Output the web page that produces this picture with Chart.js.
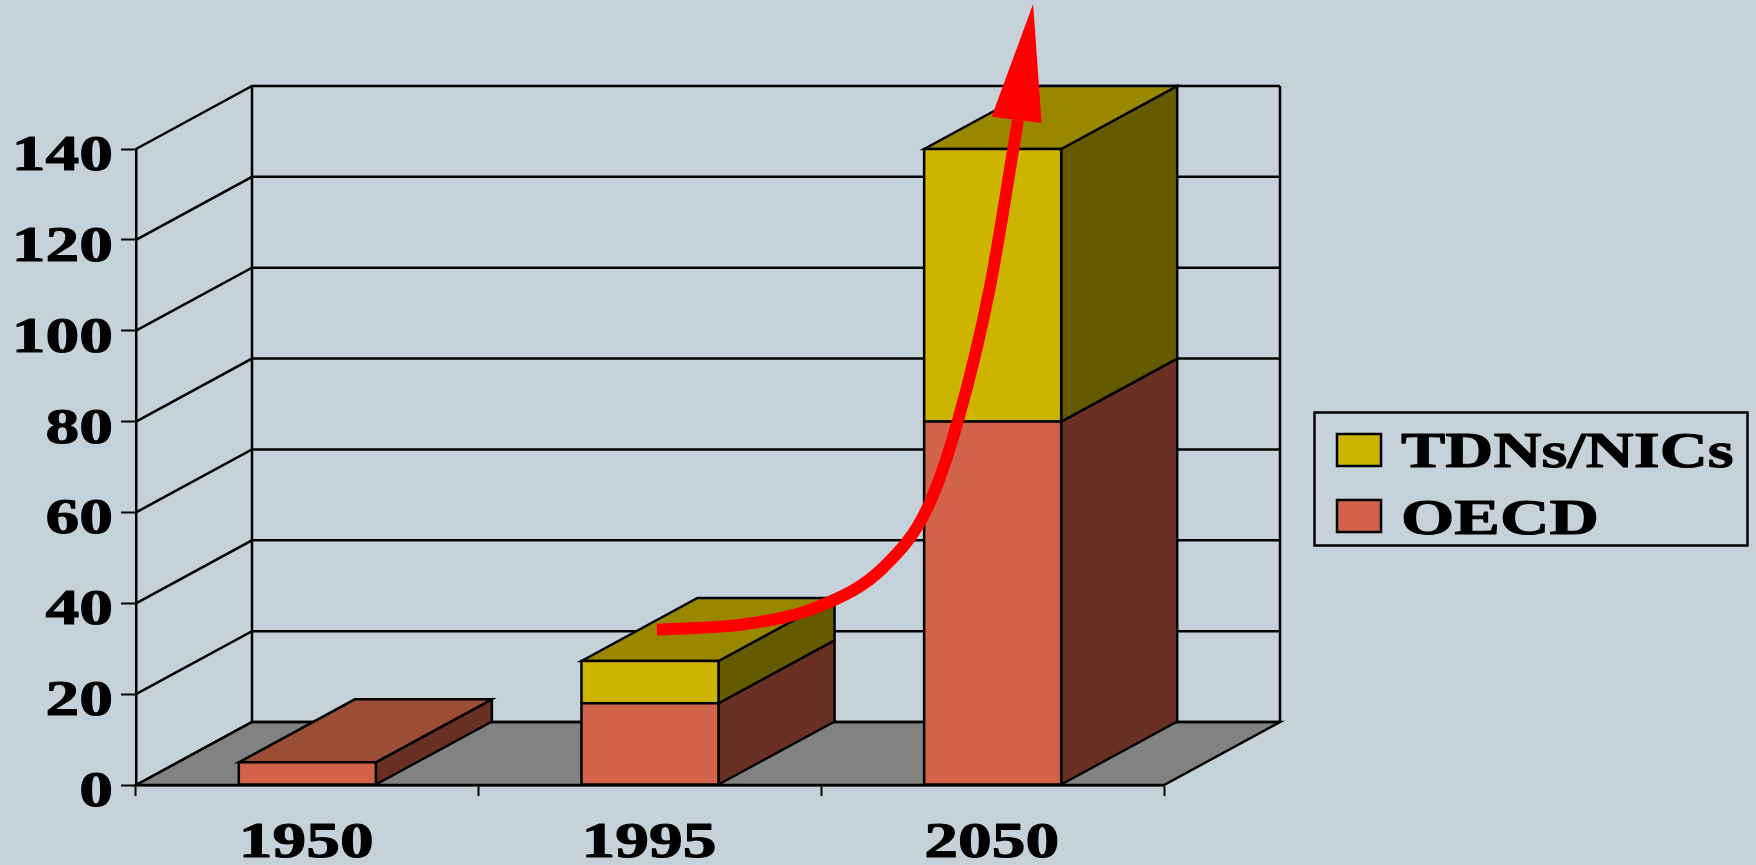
<!DOCTYPE html>
<html>
<head>
<meta charset="utf-8">
<style>html,body{margin:0;padding:0;background:#C6D2D9;overflow:hidden}canvas{display:block}</style>
<script src="https://cdn.jsdelivr.net/npm/chart.js@4"></script>
</head>
<body>
<canvas id="c" width="1756" height="865"></canvas>
<script>
// --- chart values ---
const categories = ['1950', '1995', '2050'];
const oecdValues = [5, 18, 80];
const tdnValues = [0, 9.3, 60];
const yTickStep = 20;
const yMax = 140;
// growth arrow, in data units: x = category position, y = value
const arrowX = [1.020, 1.277, 1.496, 1.680, 1.811, 1.899, 1.992, 2.074];
const arrowY = [34.2, 35.4, 39.4, 47.8, 61.2, 80.3, 109.6, 146.4];
const arrowHeadX = [2.118, 1.997, 2.143];
const arrowHeadY = [171.9, 147.1, 145.7];

const DX = 116, DY = 63, INK = '#000', LINE = 2.5;
const SERIF = "bold 50px 'Liberation Serif'";
const STRETCH = 1.35;
const faces = {
  OECD: {front: '#D0634A', side: '#6A3024', top: '#9C4D36'},
  'TDNs/NICs': {front: '#CCB400', side: '#665A00', top: '#998700'}
};

function poly(ctx, pts, fill) {
  ctx.beginPath();
  pts.forEach((p, i) => i ? ctx.lineTo(p[0], p[1]) : ctx.moveTo(p[0], p[1]));
  ctx.closePath();
  if (fill) { ctx.fillStyle = fill; ctx.fill(); }
  ctx.stroke();
}
function wideText(ctx, text, x, baseline, align, stretch) {
  ctx.save();
  ctx.translate(x, baseline);
  ctx.scale(stretch || STRETCH, 1);
  ctx.font = SERIF;
  ctx.fillStyle = INK;
  ctx.strokeStyle = INK;
  ctx.lineWidth = 1;
  ctx.lineJoin = 'round';
  ctx.textAlign = align;
  ctx.textBaseline = 'alphabetic';
  ctx.fillText(text, 0, 0);
  ctx.strokeText(text, 0, 0);
  ctx.restore();
}

const box3d = {
  id: 'box3d',
  beforeDraw(chart) {
    const {ctx, chartArea: a, scales: {y}} = chart;
    ctx.save();
    ctx.strokeStyle = INK; ctx.lineWidth = LINE; ctx.lineJoin = 'miter';
    // floor
    poly(ctx, [[a.left, a.bottom], [a.left + DX, a.bottom - DY], [a.right + DX, a.bottom - DY], [a.right, a.bottom]], '#828282');
    // walls and grid
    y.ticks.forEach(t => {
      const py = y.getPixelForValue(t.value);
      ctx.beginPath();
      ctx.moveTo(a.left, py);
      ctx.lineTo(a.left + DX, py - DY);
      ctx.lineTo(a.right + DX, py - DY);
      ctx.stroke();
    });
    [a.left + DX, a.right + DX].forEach(x => {
      ctx.beginPath();
      ctx.moveTo(x, a.top - DY);
      ctx.lineTo(x, a.bottom - DY);
      ctx.stroke();
    });
    ctx.restore();
  },
  beforeDatasetsDraw(chart) {
    const {ctx} = chart;
    const metas = chart.getSortedVisibleDatasetMetas().filter(m => m.type === 'bar')
      .sort((p, q) => p.index - q.index);
    ctx.save();
    ctx.strokeStyle = INK; ctx.lineWidth = LINE; ctx.lineJoin = 'miter';
    categories.forEach((_, i) => {
      let topBar = null, topColors = null;
      metas.forEach(m => {
        const bar = m.data[i];
        const v = chart.data.datasets[m.index].data[i];
        if (!v) return;
        const c = faces[chart.data.datasets[m.index].label];
        const r = bar.x + bar.width / 2;
        poly(ctx, [[r, bar.y], [r + DX, bar.y - DY], [r + DX, bar.base - DY], [r, bar.base]], c.side);
        topBar = bar; topColors = c;
      });
      if (topBar) {
        const l = topBar.x - topBar.width / 2, r = topBar.x + topBar.width / 2, t = topBar.y;
        poly(ctx, [[l, t], [l + DX, t - DY], [r + DX, t - DY], [r, t]], topColors.top);
      }
    });
    ctx.restore();
  },
  afterDatasetDraw(chart, args) {
    if (args.meta.type !== 'bar') return;
    const {ctx} = chart;
    ctx.save();
    ctx.strokeStyle = INK; ctx.lineWidth = LINE; ctx.lineJoin = 'miter';
    args.meta.data.forEach((bar, i) => {
      if (!chart.data.datasets[args.index].data[i]) return;
      ctx.strokeRect(bar.x - bar.width / 2, bar.y, bar.width, bar.base - bar.y);
    });
    ctx.restore();
  },
  afterDatasetsDraw(chart) {
    const {ctx, scales: {xArrow, y}} = chart;
    ctx.save();
    ctx.beginPath();
    arrowHeadX.forEach((v, i) => {
      const px = xArrow.getPixelForValue(v), py = y.getPixelForValue(arrowHeadY[i]);
      i ? ctx.lineTo(px, py) : ctx.moveTo(px, py);
    });
    ctx.closePath();
    ctx.fillStyle = '#FF0000';
    ctx.fill();
    ctx.restore();
  },
  afterDraw(chart) {
    const {ctx, scales: {x, y}} = chart;
    // axis labels
    y.ticks.forEach(t => wideText(ctx, String(t.value), 113, y.getPixelForValue(t.value) + 21, 'right'));
    categories.forEach((c, i) => wideText(ctx, c, x.getPixelForTick(i) - 1, 857, 'center'));
    // legend
    ctx.save();
    ctx.strokeStyle = INK; ctx.lineWidth = LINE;
    ctx.strokeRect(1314.5, 412.5, 433, 133);
    const rows = chart.data.datasets.filter(d => d.type === 'bar').slice().reverse();
    rows.forEach((d, i) => {
      const top = 434 + i * 66;
      ctx.fillStyle = d.backgroundColor;
      ctx.fillRect(1337, top, 44, 32);
      ctx.strokeRect(1337, top, 44, 32);
      wideText(ctx, d.label, 1401, top + 33 + i, 'left', i ? 1.37 : 1.33);
    });
    ctx.restore();
  }
};

new Chart(document.getElementById('c'), {
  data: {
    labels: categories,
    datasets: [
      {type: 'line', label: 'Trend', xAxisID: 'xArrow', yAxisID: 'y', order: 0, clip: false,
       data: arrowX.map((v, i) => ({x: v, y: arrowY[i]})),
       borderColor: '#FF0000', borderWidth: 12, borderCapStyle: 'butt', cubicInterpolationMode: 'monotone', pointRadius: 0, fill: false},
      {type: 'bar', label: 'OECD', xAxisID: 'x', yAxisID: 'y', stack: 'total', grouped: false, order: 1, data: oecdValues,
       backgroundColor: faces.OECD.front, borderWidth: 0, barPercentage: 0.4, categoryPercentage: 1},
      {type: 'bar', label: 'TDNs/NICs', xAxisID: 'x', yAxisID: 'y', stack: 'total', grouped: false, order: 1, data: tdnValues,
       backgroundColor: faces['TDNs/NICs'].front, borderWidth: 0, barPercentage: 0.4, categoryPercentage: 1}
    ]
  },
  options: {
    responsive: false,
    animation: false,
    events: [],
    layout: {padding: {left: 121, right: 592, top: 149, bottom: 69}},
    plugins: {legend: {display: false}, tooltip: {enabled: false}, title: {display: false}},
    scales: {
      x: {
        type: 'category', stacked: true, offset: true,
        grid: {offset: true, drawOnChartArea: false, color: INK, tickColor: INK, tickLength: 11, tickWidth: 2},
        border: {color: INK, width: 2.5},
        ticks: {display: false},
        afterFit(s) { s.height = 11; }
      },
      xArrow: {type: 'linear', axis: 'x', display: false, min: -0.5, max: 2.5},
      y: {
        type: 'linear', stacked: true, min: 0, max: yMax,
        grid: {drawOnChartArea: false, color: INK, tickColor: INK, tickLength: 15, tickWidth: 2},
        border: {color: INK, width: 2.5},
        ticks: {display: false, stepSize: yTickStep},
        afterFit(s) { s.width = 15; }
      }
    }
  },
  plugins: [box3d]
});
</script>
</body>
</html>
